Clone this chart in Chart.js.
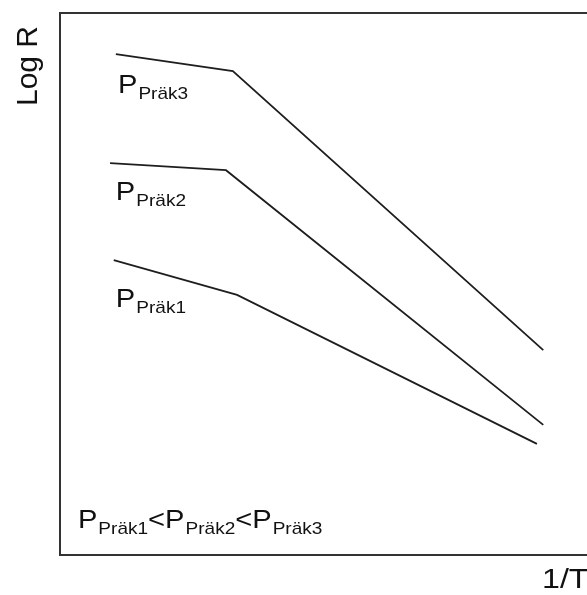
<!DOCTYPE html>
<html>
<head>
<meta charset="utf-8">
<script src="https://cdn.jsdelivr.net/npm/chart.js@4.4.1/dist/chart.umd.min.js"></script>
<style>
  html, body { margin: 0; padding: 0; background: #fff; }
  canvas { display: block; }
</style>
</head>
<body>
<canvas id="chart" width="587" height="595"></canvas>
<script>
// x = 1/T, y = Log R (arbitrary units 0..100)
const seriesNames = ["Präk1", "Präk2", "Präk3"];
const xPrak1 = [10.2, 33.6, 90.5];
const yPrak1 = [54.4, 48.0, 20.5];
const xPrak2 = [9.5, 31.5, 91.7];
const yPrak2 = [72.3, 71.0, 24.0];
const xPrak3 = [10.6, 32.8, 91.7];
const yPrak3 = [92.4, 89.3, 37.8];
const xTitle = "1/T";
const yTitle = "Log R";

const toPoints = (xs, ys) => xs.map((x, i) => ({ x: x, y: ys[i] }));

const lineStyle = {
  borderColor: "#1e1e1e",
  borderWidth: 1.8,
  pointRadius: 0,
  tension: 0,
  fill: false,
};

// label anchors (baseline-left) in data units
const labelSpots = [
  { x: 10.6, y: 45.8 },
  { x: 10.6, y: 65.5 },
  { x: 11.0, y: 85.2 },
];

const bigFont = "26px 'Liberation Sans', Arial, sans-serif";
const subFont = "17px 'Liberation Sans', Arial, sans-serif";
const stretch = 1.12; // reference text is a bit wide

// text squeezed/stretched horizontally, returns the new x
function wideText(ctx, str, x, y, sx) {
  ctx.save();
  ctx.translate(x, y);
  ctx.scale(sx, 1);
  ctx.fillText(str, 0, 0);
  ctx.restore();
  return x + ctx.measureText(str).width * sx;
}

function drawP(ctx, name, x, y) {
  ctx.font = bigFont;
  x = wideText(ctx, "P", x, y, stretch) + 1;
  ctx.font = subFont;
  return wideText(ctx, name, x, y + 6, stretch);
}

const decor = {
  id: "decor",
  beforeDraw(chart) {
    const { ctx, chartArea } = chart;
    ctx.save();
    ctx.strokeStyle = "#333";
    ctx.lineWidth = 2;
    ctx.beginPath();
    ctx.moveTo(chartArea.right + 5, chartArea.top);
    ctx.lineTo(chartArea.left, chartArea.top);
    ctx.lineTo(chartArea.left, chartArea.bottom);
    ctx.lineTo(chartArea.right + 5, chartArea.bottom);
    ctx.stroke();
    ctx.restore();
  },
  afterDraw(chart) {
    const { ctx, scales } = chart;
    const xs = scales.x, ys = scales.y;
    ctx.save();
    ctx.fillStyle = "#111";
    ctx.textBaseline = "alphabetic";
    ctx.textAlign = "left";

    seriesNames.forEach((name, i) => {
      drawP(ctx, name, xs.getPixelForValue(labelSpots[i].x), ys.getPixelForValue(labelSpots[i].y));
    });

    // ordering note at bottom
    let bx = xs.getPixelForValue(3.4);
    const by = ys.getPixelForValue(5.0);
    seriesNames.forEach((name, i) => {
      bx = drawP(ctx, name, bx, by);
      if (i < seriesNames.length - 1) {
        ctx.font = bigFont;
        bx = wideText(ctx, "<", bx, by, stretch);
      }
    });

    // axis titles
    ctx.font = "28px 'Liberation Sans', Arial, sans-serif";
    wideText(ctx, xTitle, 542, 588, 1.15);

    ctx.font = "30px 'Liberation Sans', Arial, sans-serif";
    ctx.translate(37, 66);
    ctx.rotate(-Math.PI / 2);
    ctx.textAlign = "center";
    ctx.fillText(yTitle, 0, 0);
    ctx.restore();
  },
};

new Chart(document.getElementById("chart"), {
  type: "line",
  data: {
    datasets: [
      { label: seriesNames[0], data: toPoints(xPrak1, yPrak1), ...lineStyle },
      { label: seriesNames[1], data: toPoints(xPrak2, yPrak2), ...lineStyle },
      { label: seriesNames[2], data: toPoints(xPrak3, yPrak3), ...lineStyle },
    ],
  },
  options: {
    responsive: false,
    animation: false,
    layout: { padding: { left: 60, top: 13, right: 0, bottom: 40 } },
    plugins: { legend: { display: false }, tooltip: { enabled: false } },
    scales: {
      x: { type: "linear", min: 0, max: 100, display: false },
      y: { type: "linear", min: 0, max: 100, display: false },
    },
  },
  plugins: [decor],
});
</script>
</body>
</html>
